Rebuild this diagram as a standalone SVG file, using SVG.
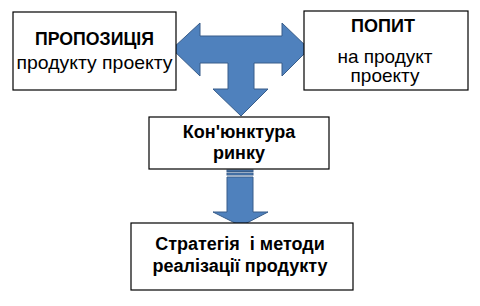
<svg xmlns="http://www.w3.org/2000/svg" width="480" height="306" viewBox="0 0 480 306">
<style>
.box{fill:#fff;stroke:#000;stroke-width:1.2}
.arr{fill:#4F81BD;stroke:#385D8A;stroke-width:1}
text{font-family:"Liberation Sans",Arial,sans-serif;font-size:19px;text-anchor:middle;fill:#000}
.b{font-weight:bold;font-size:18px}
</style>
<rect width="480" height="306" fill="#fff"/>
<g id="connectors">
<path class="arr" d="M172,49 L200,23 L200,36 L282,36 L282,23 L309,49 L282,76 L282,63 L254,63 L254,89 L268,89 L241,116 L213,89 L228,89 L228,63 L200,63 L200,76 Z"/>
<rect class="arr" x="227" y="170" width="26" height="1.5"/>
<rect class="arr" x="227" y="173" width="26" height="2"/>
<path class="arr" d="M227,177 L253,177 L253,212 L268,212 L241,226 L213,212 L227,212 Z"/>
</g>
<g id="n1">
<rect class="box" x="13" y="12" width="163" height="78"/>
<text class="b" x="94.5" y="45" textLength="119" lengthAdjust="spacingAndGlyphs">ПРОПОЗИЦІЯ</text>
<text x="94.5" y="69" textLength="156" lengthAdjust="spacingAndGlyphs">продукту проекту</text>
</g>
<g id="n2">
<rect class="box" x="304" y="11" width="164" height="79"/>
<text class="b" x="383" y="32">ПОПИТ</text>
<text x="385" y="63">на продукт</text>
<text x="385" y="82">проекту</text>
</g>
<g id="n3">
<rect class="box" x="149" y="117" width="180" height="52"/>
<text class="b" x="239" y="138">Кон'юнктура</text>
<text class="b" x="239" y="159">ринку</text>
</g>
<g id="n4">
<rect class="box" x="131" y="223" width="222" height="67"/>
<text class="b" x="240" y="250" xml:space="preserve">Стратегія  і методи</text>
<text class="b" x="240" y="272">реалізації продукту</text>
</g>
</svg>
